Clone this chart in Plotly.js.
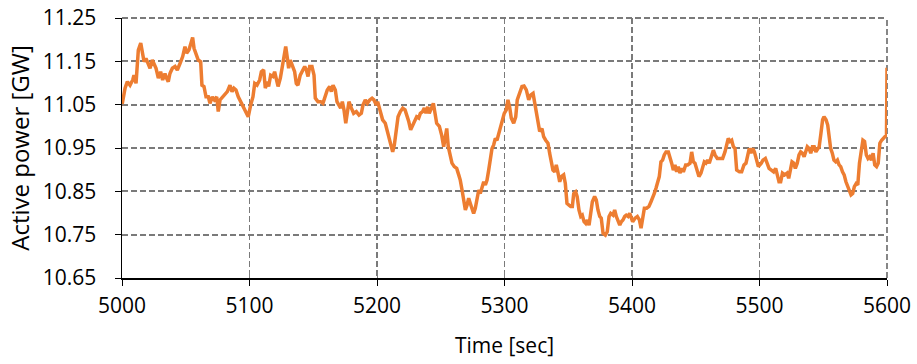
<!DOCTYPE html>
<html>
<head>
<meta charset="utf-8">
<script src="https://cdn.plot.ly/plotly-3.0.1.min.js"></script>
<style>html,body{margin:0;padding:0;background:#fff;}#chart{width:917px;height:364px;}</style>
</head>
<body>
<div id="chart"></div>
<script>
const timeSec = [
5000,5002.4,5004.2,5006.3,5008.4,5009.4,5011,5012.8,5014.7,5016.2,5017.3,5018.8,5020.6,5022,5023.8,5025.3,5026.7,5028.5,5030.3,5031.9,5033.7,5035,5036.3,5037.6,5039.5,5041.6,5043.4,5045.5,5047.6,5049.4,5050.7,5052.5,5054.1,5055.4,5056.5,5058,5059.8,5061.7,5062.7,5064.3,5065.9,5067.7,5069,5070.8,5072.4,5074.3,5075.5,5076.9,5079,5080.8,5082.6,5084.7,5086.3,5087.8,5089.4,5091.2,5093.1,5095.1,5097.3,5099,
5100.9,5102.7,5104.1,5105.9,5108,5109.3,5111.1,5112.4,5114,5115,5116.6,5118.4,5119.7,5121,5122.4,5124.2,5125.7,5127.1,5128.4,5129.7,5130.7,5132,5133.6,5135.4,5136.7,5138,5139.8,5141.4,5143.3,5144.6,5145.9,5147.2,5149,5150.6,5151.6,5153.7,5155.8,5157.6,5159.4,5161,5162.9,5164.2,5165.5,5167.3,5168.6,5170,5171.5,5172.8,5174.1,5175.5,5176.7,5178,5179.9,5181.7,5183.8,5185.9,5187.7,5189,5190.8,5192.4,5194.3,5196.1,5197.6,5199.5,
5200.5,5202.4,5204.4,5206.5,5208.4,5210.2,5212.3,5213.6,5214.9,5216.5,5218.3,5220.2,5222,5223.6,5224.9,5226.4,5228,5229.3,5231.1,5232.7,5234,5235.8,5237.1,5238.4,5239.8,5241,5242.4,5244.2,5245.5,5246.8,5248.9,5250.7,5252.3,5253.6,5254.7,5255.9,5257.3,5258.8,5260.6,5262.5,5264.1,5265.3,5266.7,5268,5269.3,5270.6,5271.9,5273.2,5274.5,5275.8,5277.1,5278.4,5279.8,5281,5282.4,5283.7,5285,5286.3,5287.6,5288.9,5290.2,5291.5,5292.8,5294.1,5295.4,5296.7,5298,5299.8,
5301.4,5302.7,5304,5305.3,5307.2,5308.8,5310,5311.9,5313.7,5315.3,5317.1,5319,5320.5,5322.4,5323.7,5325,5326.3,5327.6,5329.4,5330.7,5332.3,5334.1,5335.4,5336.7,5338,5339.4,5340.6,5342,5343.3,5344.6,5346.4,5347.7,5349,5350.6,5351.9,5353.2,5354.3,5355.8,5357,5358.4,5359.8,5361,5362.4,5363.7,5365,5366.3,5367.6,5368.9,5370.7,5372,5373.3,5374.7,5375.9,5377.3,5379.1,5380.6,5382,5383.3,5385.1,5386.4,5387.7,5389,5390.4,5391.6,5392.9,5394.3,5395.5,5396.9,5398.2,
5400.5,5402.4,5404.2,5405.8,5407.1,5408.4,5409.7,5411.5,5413.3,5414.9,5416.2,5417.5,5418.8,5420.1,5421.4,5422.7,5424,5425.3,5426.7,5428.5,5429.8,5431.1,5432.4,5433.7,5435,5436.3,5437.6,5439,5440.3,5442.1,5443.7,5445.5,5446.8,5448.1,5449.4,5450.7,5452.5,5454.1,5455.4,5456.7,5458,5459.3,5460.6,5462.4,5463.8,5465.1,5466.9,5469,5471.1,5472.9,5474.2,5475.5,5476.9,5478.2,5479.5,5480.8,5482.1,5484.2,5486,5487.8,5489.4,5490.7,5492,5493.3,5494.7,5496,5497.3,5499.1,
5501.4,5502.7,5504.6,5506.1,5507.5,5509.3,5511.1,5512.7,5514,5515.3,5516.6,5518,5519.8,5521.6,5522.9,5524.2,5525.5,5526.8,5528.1,5529.6,5531,5532.3,5533.6,5535,5536.2,5537.5,5538.9,5540.2,5541.5,5542.9,5544.2,5545.5,5546.8,5548.2,5549.5,5550.6,5552.2,5553.5,5554.5,5555.8,5557.1,5558.4,5559.8,5561.1,5562.4,5563.7,5565.1,5566.4,5567.8,5569.1,5570.4,5571.8,5573.1,5574.4,5575.8,5577.1,5578.4,5579.8,5581.1,5582.4,5583.8,5585.1,5586.4,5587.8,5589.1,5590.4,5591.8,5593.1,5594.4,5595.8,5597.1,5598.4,5599.6,5600
];
const activePowerGW = [
11.049,11.088,11.103,11.095,11.107,11.118,11.099,11.176,11.192,11.172,11.149,11.157,11.142,11.134,11.153,11.145,11.134,11.111,11.126,11.107,11.122,11.111,11.103,11.122,11.134,11.138,11.130,11.145,11.161,11.184,11.169,11.176,11.195,11.205,11.180,11.165,11.153,11.149,11.095,11.092,11.068,11.068,11.053,11.068,11.061,11.068,11.034,11.061,11.068,11.076,11.080,11.095,11.080,11.088,11.084,11.068,11.057,11.042,11.030,11.022,
11.049,11.068,11.099,11.095,11.107,11.126,11.130,11.088,11.103,11.092,11.118,11.115,11.126,11.111,11.092,11.111,11.134,11.157,11.184,11.157,11.134,11.153,11.138,11.126,11.099,11.095,11.118,11.126,11.138,11.130,11.115,11.138,11.138,11.118,11.065,11.057,11.057,11.053,11.068,11.084,11.092,11.080,11.095,11.084,11.057,11.049,11.042,11.057,11.038,11.007,11.030,11.057,11.042,11.030,11.034,11.026,11.030,11.049,11.061,11.053,11.061,11.065,11.061,11.049,
11.057,11.038,11.015,11.007,10.984,10.965,10.941,10.957,10.992,11.022,11.034,11.042,11.038,11.026,11.011,10.992,11.003,11.011,11.022,11.019,11.030,11.034,11.042,11.030,11.045,11.030,11.042,11.053,11.030,11.007,11.000,10.980,10.953,10.984,10.995,10.953,10.930,10.915,10.907,10.903,10.888,10.876,10.853,10.822,10.807,10.818,10.834,10.822,10.811,10.799,10.811,10.838,10.853,10.845,10.857,10.872,10.865,10.876,10.899,10.930,10.949,10.957,10.972,10.968,10.984,11.000,11.011,11.030,
11.038,11.061,11.045,11.019,11.007,11.022,11.061,11.080,11.092,11.093,11.084,11.061,11.072,11.076,11.053,11.038,11.015,10.988,10.995,10.976,10.968,10.961,10.938,10.918,10.899,10.895,10.911,10.892,10.872,10.884,10.888,10.868,10.822,10.818,10.815,10.815,10.845,10.849,10.838,10.807,10.792,10.795,10.780,10.776,10.784,10.772,10.795,10.826,10.838,10.830,10.807,10.792,10.788,10.753,10.749,10.757,10.792,10.799,10.795,10.807,10.792,10.780,10.772,10.780,10.784,10.792,10.795,10.792,10.799,
10.780,10.788,10.792,10.784,10.765,10.792,10.811,10.811,10.815,10.826,10.834,10.845,10.857,10.872,10.884,10.918,10.922,10.934,10.941,10.941,10.930,10.915,10.899,10.911,10.895,10.907,10.892,10.903,10.895,10.911,10.911,10.915,10.941,10.918,10.915,10.903,10.884,10.892,10.903,10.918,10.915,10.922,10.915,10.934,10.945,10.934,10.926,10.926,10.926,10.941,10.957,10.972,10.965,10.968,10.953,10.949,10.899,10.895,10.895,10.911,10.915,10.930,10.949,10.938,10.949,10.941,10.926,10.907,
10.915,10.922,10.926,10.915,10.903,10.899,10.895,10.903,10.888,10.872,10.872,10.892,10.888,10.892,10.880,10.899,10.918,10.915,10.903,10.915,10.934,10.941,10.938,10.930,10.941,10.953,10.949,10.938,10.953,10.953,10.941,10.949,10.953,10.984,11.015,11.022,11.015,11.003,10.972,10.949,10.938,10.922,10.918,10.922,10.911,10.907,10.895,10.888,10.872,10.861,10.849,10.842,10.845,10.861,10.868,10.865,10.915,10.945,10.968,10.965,10.934,10.926,10.930,10.922,10.938,10.911,10.907,10.915,10.961,10.968,10.972,10.976,10.980,11.135
];
const xTicks = [5000,5100,5200,5300,5400,5500,5600];
const yTicks = [10.65,10.75,10.85,10.95,11.05,11.15,11.25];
const xTitle = 'Time [sec]';
const yTitle = 'Active power [GW]';

const font = '"Open Sans", sans-serif';
const gridColor = '#7a7a7a';
const grid = {showgrid:true, gridcolor:gridColor, gridwidth:1.8, griddash:'6px,3px'};

const data = [{
  x: timeSec, y: activePowerGW, type:'scatter', mode:'lines',
  line:{color:'#ED7D31', width:3.5}, hoverinfo:'skip', showlegend:false
},{
  x:[5000], y:[10.65], xaxis:'x2', yaxis:'y2', type:'scatter', mode:'markers',
  marker:{opacity:0}, hoverinfo:'skip', showlegend:false
}];

const layout = {
  width:917, height:364,
  margin:{l:122, r:30, t:18, b:86},
  paper_bgcolor:'#fff', plot_bgcolor:'#fff',
  font:{family:font, size:21, color:'#000'},
  xaxis: Object.assign({
    range:[5000,5600], tickmode:'array', tickvals:xTicks, ticktext:xTicks.map(String),
    showline:true, linecolor:'#000', linewidth:1.5, ticks:'outside', ticklen:6, tickcolor:'#000',
    zeroline:false, ticklabelstandoff:2, tickfont:{family:font, size:21, color:'#000'},
    title:{text:xTitle, font:{family:font, size:21, color:'#000'}, standoff:20}
  }, grid),
  yaxis: Object.assign({
    range:[10.65,11.25], tickmode:'array', tickvals:yTicks, ticktext:yTicks.map(v=>v.toFixed(2)),
    showline:true, linecolor:'#000', linewidth:1.5, ticks:'outside', ticklen:6, tickcolor:'#000',
    zeroline:false, ticklabelstandoff:14, tickfont:{family:font, size:21, color:'#000'},
    title:{text:yTitle, font:{family:font, size:24, color:'#000'}, standoff:6}
  }, grid),
  xaxis2:{overlaying:'x', range:[5000,5600], tickmode:'array', tickvals:xTicks, ticks:'inside', ticklen:6, tickcolor:'#808080',
    showticklabels:false, showgrid:false, zeroline:false, showline:false, side:'bottom'},
  yaxis2:{overlaying:'y', range:[10.65,11.25], tickmode:'array', tickvals:yTicks, ticks:'inside', ticklen:6, tickcolor:'#808080',
    showticklabels:false, showgrid:false, zeroline:false, showline:false, side:'left'},
  shapes:[
    {type:'line', xref:'paper', yref:'paper', x0:0, x1:1, y0:1, y1:1, layer:'below', line:{color:gridColor, width:1.8, dash:'6px,3px'}},
    {type:'line', xref:'paper', yref:'paper', x0:1, x1:1, y0:0, y1:1, layer:'below', line:{color:gridColor, width:1.8, dash:'6px,3px'}}
  ]
};

Plotly.newPlot('chart', data, layout, {displayModeBar:false, staticPlot:true});
</script>
</body>
</html>
